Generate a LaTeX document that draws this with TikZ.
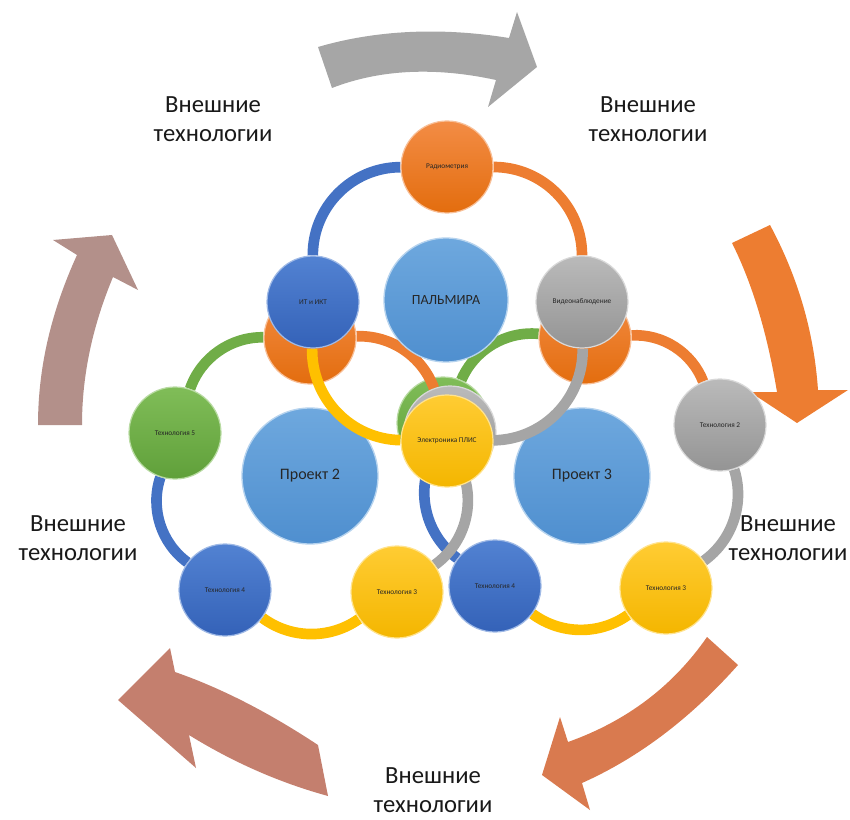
\documentclass[tikz,border=0pt]{standalone}
\usepackage{fontspec}
\setmainfont{Carlito}
\usetikzlibrary{calc}
\pgfdeclarelayer{l0}
\pgfdeclarelayer{l1}
\pgfdeclarelayer{l2}
\pgfdeclarelayer{l3}
\pgfdeclarelayer{l4}
\pgfdeclarelayer{l5}
\pgfsetlayers{l0,l1,l2,l3,l4,l5,main}
\definecolor{cOr}{HTML}{ED7D31}
\definecolor{cOrL}{HTML}{F38C45}
\definecolor{cOrD}{HTML}{E36D0E}
\definecolor{cBl}{HTML}{4472C4}
\definecolor{cBlL}{HTML}{5282D2}
\definecolor{cBlD}{HTML}{3462B8}
\definecolor{cGr}{HTML}{A5A5A5}
\definecolor{cGrL}{HTML}{BABABA}
\definecolor{cGrD}{HTML}{949494}
\definecolor{cYe}{HTML}{FFC000}
\definecolor{cYeL}{HTML}{FFCC33}
\definecolor{cYeD}{HTML}{F4B600}
\definecolor{cGn}{HTML}{70AD47}
\definecolor{cGnL}{HTML}{80BD58}
\definecolor{cGnD}{HTML}{60A03A}
\definecolor{cSky}{HTML}{5B9BD5}
\definecolor{cSkyL}{HTML}{6EA8DE}
\definecolor{cSkyD}{HTML}{4F8FCF}
\definecolor{aGray}{HTML}{A6A6A6}
\definecolor{aOrange}{HTML}{ED7D31}
\definecolor{aOrange2}{HTML}{D97A4F}
\definecolor{aBrown}{HTML}{C47F6E}
\definecolor{aMauve}{HTML}{B3908A}
\tikzset{
  bub/.style={circle, minimum size=69pt, inner sep=0pt, line width=0.9pt,
    font=\fontsize{5.5}{6.5}\selectfont, text=black!85},
  bOr/.style={bub, top color=cOrL, bottom color=cOrD, draw=cOrL!55!white},
  bBl/.style={bub, top color=cBlL, bottom color=cBlD, draw=cBlL!55!white},
  bGr/.style={bub, top color=cGrL, bottom color=cGrD, draw=cGrL!55!white},
  bYe/.style={bub, top color=cYeL, bottom color=cYeD, draw=cYeL!55!white},
  bGn/.style={bub, top color=cGnL, bottom color=cGnD, draw=cGnL!55!white},
  hub/.style={circle, inner sep=0pt, line width=1pt, top color=cSkyL,
    bottom color=cSkyD, draw=cSkyL!50!white, text=black!85},
  ringA/.style={line width=8pt, bend left=45},
  ringB/.style={line width=8pt, bend left=36, looseness=0.94},
  ext/.style={align=center, font=\fontsize{18.5}{21.5}\selectfont, text=black!90, inner sep=1pt}
}
\begin{document}
\begin{tikzpicture}[x=0.75pt, y=-0.75pt]
\useasboundingbox (0,0) rectangle (850,820);

% ---------- big curved arrows ----------
\begin{pgfonlayer}{l0}
\fill[aGray] (318,47) .. controls (376,30) and (441,27) .. (509,38)
  -- (517,12) -- (537,67) -- (488,107) -- (496,80)
  .. controls (436,67) and (381,69) .. (332,88) -- cycle;
\fill[aOrange] (770,225) .. controls (798,277) and (814,332) .. (818,390)
  -- (848,390) -- (797,423) -- (750,392) -- (777,392)
  .. controls (767,332) and (752,283) .. (732,243) -- cycle;
\fill[aOrange2] (707,637) .. controls (673,686) and (627,721) .. (568,742)
  -- (560,717) -- (542,775) -- (590,810) -- (582,783)
  .. controls (638,758) and (690,719) .. (738,665) -- cycle;
\fill[aBrown] (318,745) .. controls (268,712) and (221,688) .. (175,672)
  -- (170,648) -- (118,700) -- (196,768) -- (189,735)
  .. controls (231,761) and (277,782) .. (328,796) -- cycle;
\fill[aMauve] (38,425) .. controls (38,368) and (51,312) .. (77,255)
  -- (53,240) -- (112,235) -- (138,290) -- (113,277)
  .. controls (93,325) and (82,374) .. (82,425) -- cycle;

\node[ext] (e1) at (213,119) {Внешние\\технологии};
\node[ext] (e2) at (648,119) {Внешние\\технологии};
\node[ext] (e3) at (78,538) {Внешние\\технологии};
\node[ext] (e4) at (788,538) {Внешние\\технологии};
\node[ext] (e5) at (433,790) {Внешние\\технологии};
\end{pgfonlayer}

% ---------- ring 3 (right) ----------
\begin{pgfonlayer}{l2}
\node[hub, minimum size=102pt, font=\fontsize{12}{14}\selectfont] (p3) at (582,476) {Проект 3};
\node[bOr] (r3t) at (585,338) {};
\node[bGr] (r3r) at (720,425) {Технология 2};
\node[bYe] (r3br) at (666,588) {Технология 3};
\node[bBl] (r3bl) at (495,586) {Технология 4};
\node[bGn] (r3l) at (443,423) {};
\end{pgfonlayer}
\begin{pgfonlayer}{l1}
\draw[ringB, cOr] (r3t) to (r3r);
\draw[ringB, cGr] (r3r) to (r3br);
\draw[ringB, cYe] (r3br) to (r3bl);
\draw[ringB, cBl] (r3bl) to (r3l);
\draw[ringB, cGn] (r3l) to (r3t);
\end{pgfonlayer}

% ---------- ring 2 (left) ----------
\begin{pgfonlayer}{l4}
\node[hub, minimum size=102pt, font=\fontsize{12}{14}\selectfont] (p2) at (310,476) {Проект 2};
\node[bOr] (r2t) at (310,338) {};
\node[bGr] (r2r) at (450,432) {};
\node[bYe] (r2br) at (397,592) {Технология 3};
\node[bBl] (r2bl) at (225,590) {Технология 4};
\node[bGn] (r2l) at (175,433) {Технология 5};
\end{pgfonlayer}
\begin{pgfonlayer}{l3}
\draw[ringB, cOr] (r2t) to (r2r);
\draw[ringB, cGr] (r2r) to (r2br);
\draw[ringB, cYe] (r2br) to (r2bl);
\draw[ringB, cBl] (r2bl) to (r2l);
\draw[ringB, cGn] (r2l) to (r2t);
\end{pgfonlayer}

% ---------- ring 1 (top) ----------
\node[hub, minimum size=93pt, font=\fontsize{10.5}{12}\selectfont] (p1) at (446,300) {ПАЛЬМИРА};
\node[bOr] (r1t) at (447,167) {Радиометрия};
\node[bGr] (r1r) at (582,302) {Видеонаблюдение};
\node[bYe] (r1b) at (447,441) {Электроника ПЛИС};
\node[bBl] (r1l) at (313,302) {ИТ и ИКТ};
\begin{pgfonlayer}{l5}
\draw[ringA, cOr] (r1t) to (r1r);
\draw[ringA, cGr] (r1r) to (r1b);
\draw[ringA, cYe] (r1b) to (r1l);
\draw[ringA, cBl] (r1l) to (r1t);
\end{pgfonlayer}
\end{tikzpicture}
\end{document}
